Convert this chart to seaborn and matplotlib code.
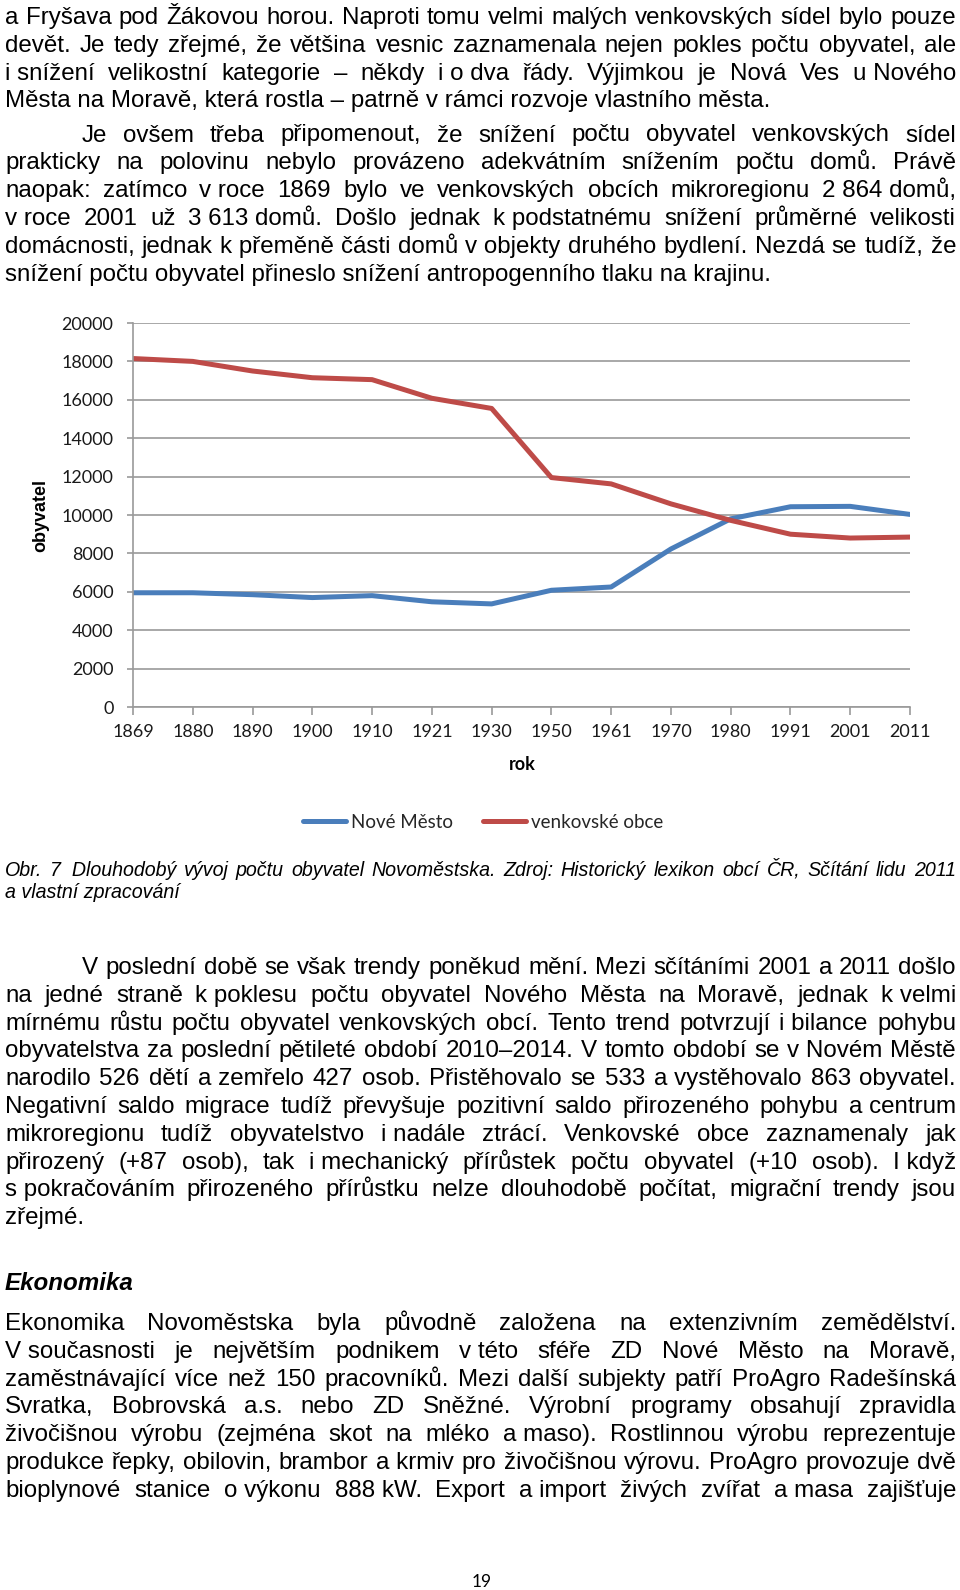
import matplotlib
matplotlib.use('Agg')
import matplotlib.pyplot as plt
import matplotlib.transforms as mtransforms
from matplotlib.lines import Line2D
import seaborn as sns
import pandas as pd

# ---------------- data ----------------
years = ['1869', '1880', '1890', '1900', '1910', '1921', '1930',
         '1950', '1961', '1970', '1980', '1991', '2001', '2011']
nove_mesto = [5950, 5950, 5850, 5700, 5800, 5480, 5370,
              6080, 6250, 8230, 9800, 10430, 10450, 10030]
venkovske_obce = [18150, 18000, 17500, 17150, 17050, 16080, 15550,
                  11950, 11620, 10580, 9720, 9000, 8800, 8850]
y_ticks = [0, 2000, 4000, 6000, 8000, 10000, 12000, 14000, 16000, 18000, 20000]
series_names = ['Nové Město', 'venkovské obce']
series_colors = ['#4A7EBB', '#BE4B48']
x_title = 'rok'
y_title = 'obyvatel'

NB = '\u00a0'
para1 = [
    "a Fryšava pod Žákovou horou. Naproti tomu velmi malých venkovských sídel bylo pouze",
    "devět. Je tedy zřejmé, že většina vesnic zaznamenala nejen pokles počtu obyvatel, ale",
    f"i{NB}snížení velikostní kategorie – někdy i{NB}o{NB}dva řády. Výjimkou je Nová Ves u{NB}Nového",
    "Města na Moravě, která rostla – patrně v rámci rozvoje vlastního města.",
]
para2 = [
    "Je ovšem třeba připomenout, že snížení počtu obyvatel venkovských sídel",
    "prakticky na polovinu nebylo provázeno adekvátním snížením počtu domů. Právě",
    f"naopak: zatímco v{NB}roce 1869 bylo ve venkovských obcích mikroregionu 2{NB}864{NB}domů,",
    f"v{NB}roce 2001 už 3{NB}613{NB}domů. Došlo jednak k{NB}podstatnému snížení průměrné velikosti",
    f"domácnosti, jednak k{NB}přeměně části domů v{NB}objekty druhého bydlení. Nezdá se tudíž, že",
    "snížení počtu obyvatel přineslo snížení antropogenního tlaku na krajinu.",
]
caption = [
    f"Obr. 7{NB}{NB}Dlouhodobý vývoj počtu obyvatel Novoměstska. Zdroj: Historický lexikon obcí ČR, Sčítání lidu 2011",
    "a vlastní zpracování",
]
para3 = [
    "V poslední době se však trendy poněkud mění. Mezi sčítáními 2001 a 2011 došlo",
    f"na jedné straně k{NB}poklesu počtu obyvatel Nového Města na Moravě, jednak k{NB}velmi",
    f"mírnému růstu počtu obyvatel venkovských obcí. Tento trend potvrzují i{NB}bilance pohybu",
    f"obyvatelstva za poslední pětileté období 2010–2014. V tomto období se v{NB}Novém Městě",
    f"narodilo 526 dětí a{NB}zemřelo 427 osob. Přistěhovalo se 533 a{NB}vystěhovalo 863 obyvatel.",
    f"Negativní saldo migrace tudíž převyšuje pozitivní saldo přirozeného pohybu a{NB}centrum",
    f"mikroregionu tudíž obyvatelstvo i{NB}nadále ztrácí. Venkovské obce zaznamenaly jak",
    f"přirozený (+87 osob), tak i{NB}mechanický přírůstek počtu obyvatel (+10 osob). I{NB}když",
    f"s{NB}pokračováním přirozeného přírůstku nelze dlouhodobě počítat, migrační trendy jsou",
    "zřejmé.",
]
heading = "Ekonomika"
para4 = [
    "Ekonomika Novoměstska byla původně založena na extenzivním zemědělství.",
    f"V{NB}současnosti je největším podnikem v{NB}této sféře ZD Nové Město na Moravě,",
    "zaměstnávající více než 150 pracovníků. Mezi další subjekty patří ProAgro Radešínská",
    "Svratka, Bobrovská a.s. nebo ZD Snězné. Výrobní programy obsahují zpravidla".replace("Snězné", "Sněžné"),
    f"živočišnou výrobu (zejména skot na mléko a{NB}maso). Rostlinnou výrobu reprezentuje",
    f"produkce řepky, obilovin, brambor a{NB}krmiv pro živočišnou výrovu. ProAgro provozuje dvě",
    f"bioplynové stanice o{NB}výkonu 888{NB}kW. Export a{NB}import živých zvířat a{NB}masa zajišťuje",
]
page_number = "19"

# ---------------- figure ----------------
sns.set_style('white')
plt.rcParams['font.family'] = ['Liberation Sans', 'DejaVu Sans']

W, H = 960, 1590
fig = plt.figure(figsize=(W / 100, H / 100), dpi=100)
fig.patch.set_facecolor('white')
ident = mtransforms.IdentityTransform()
renderer = fig.canvas.get_renderer()
FAM = ['Liberation Sans', 'DejaVu Sans']


def measure(s, **kw):
    t = fig.text(0, 0, s, transform=ident, **kw)
    w = t.get_window_extent(renderer).width
    t.remove()
    return w


def props(fs, style='normal', weight='normal'):
    return dict(fontsize=fs, fontstyle=style, fontweight=weight, family=FAM,
                color='black', va='baseline', ha='left')


def draw_line(s, x0, x1, yb, kw, justify=True):
    if not justify:
        fig.text(x0, H - yb, s, transform=ident, **kw)
        return
    words = s.split(' ')
    widths = [measure(w, **kw) for w in words]
    gap = (x1 - x0 - sum(widths)) / max(len(words) - 1, 1)
    x = x0
    for w, wd in zip(words, widths):
        fig.text(x, H - yb, w, transform=ident, **kw)
        x += wd + gap


def draw_para(lines, first_base, step, kw, indent=False, last_justified=False,
              x0=5, x1=956, ind_x=82):
    for i, s in enumerate(lines):
        xs = ind_x if (indent and i == 0) else x0
        just = (i < len(lines) - 1) or last_justified
        draw_line(s, xs, x1, first_base + i * step, kw, justify=just)


# calibrate body font size against reference line width
w10 = measure(para2[-1], **props(10))
fs_body = 10 * 767 / w10
w10c = measure(caption[-1], **props(10, style='italic'))
fs_cap = 10 * 175 / w10c

body = props(fs_body)
STEP = 27.8
draw_para(para1, 24, STEP, body)
draw_para(para2, 141.5, STEP, body, indent=True)
draw_para(caption, 875.5, 22.5, props(fs_cap, style='italic'))
draw_para(para3, 974, STEP, body, indent=True)
fig.text(5, H - 1290, heading, transform=ident, **props(fs_body, style='italic', weight='bold'))
draw_para(para4, 1330, STEP, body, last_justified=True)
fig.text(482, H - 1587, page_number, transform=ident, fontsize=12.5, family=['Lato', 'DejaVu Sans'],
         color='black', ha='center', va='baseline')

# ---------------- chart ----------------
left, right, top, bottom = 133, 910, 323, 707
ax = fig.add_axes([left / W, 1 - bottom / H, (right - left) / W, (bottom - top) / H])
n = len(years)
df = pd.DataFrame({
    'pos': list(range(n)) * 2,
    'obyvatel': nove_mesto + venkovske_obce,
    'serie': [series_names[0]] * n + [series_names[1]] * n,
})
sns.lineplot(data=df, x='pos', y='obyvatel', hue='serie',
             palette=dict(zip(series_names, series_colors)),
             linewidth=3.6, ax=ax, legend=False)
for ln in ax.lines:
    ln.set_solid_joinstyle('round')

ax.set_xlim(0, n - 1)
ax.set_ylim(0, 20000)
ax.set_yticks(y_ticks)
ax.set_yticklabels([str(v) for v in y_ticks])
ax.set_xticks(range(n))
ax.set_xticklabels(years)
ax.set_xlabel('')
ax.set_ylabel('')
ax.grid(axis='y', color='#9a9a9a', linewidth=1.2)
ax.grid(axis='x', visible=False)
ax.set_axisbelow(True)
for s in ['top', 'right']:
    ax.spines[s].set_visible(False)
for s in ['left', 'bottom']:
    ax.spines[s].set_color('#9a9a9a')
    ax.spines[s].set_linewidth(1.2)
ax.tick_params(axis='x', length=6, width=1.2, color='#9a9a9a', pad=6,
               labelsize=13, labelcolor='#1a1a1a', bottom=True)
ax.tick_params(axis='y', length=4, width=1.2, color='#9a9a9a', pad=10,
               labelsize=13, labelcolor='#1a1a1a', left=True)
for lab in ax.get_xticklabels() + ax.get_yticklabels():
    lab.set_family(['Lato', 'DejaVu Sans'])

fig.text(41, H - 515, y_title, transform=ident, rotation=90, ha='center', va='center',
         fontsize=13, fontweight='bold', family=FAM, color='black')
fig.text(522, H - 765, x_title, transform=ident, ha='center', va='center',
         fontsize=13, fontweight='bold', family=['Lato', 'DejaVu Sans'], color='black')

handles = [Line2D([], [], color=c, lw=3.6, solid_capstyle='round') for c in series_colors]
fig.legend(handles, series_names, loc='center', bbox_to_anchor=(483 / W, 1 - 822 / H),
           ncol=2, frameon=False, prop=dict(family=['Lato', 'DejaVu Sans'], size=13.5),
           handlelength=2.3, handletextpad=0.25, columnspacing=1.6)

fig.savefig('out.png', dpi=100, facecolor='white')
